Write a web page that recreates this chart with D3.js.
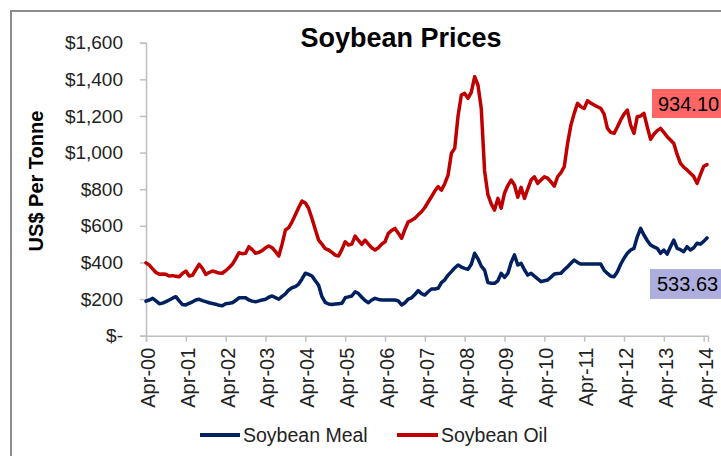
<!DOCTYPE html>
<html><head><meta charset="utf-8">
<script src="https://cdn.jsdelivr.net/npm/d3@7"></script>
<style>
body{margin:0;background:#fff;}
svg{display:block;font-family:"Liberation Sans",Arial,sans-serif;}
</style>
</head><body>
<svg id="chart" width="721" height="456"></svg>
<script>
// ---- data (monthly, Apr-2000 .. May-2014), US$ per tonne ----
const startMonth = new Date(2000, 3, 1);
const xTickLabels = ["Apr-00","Apr-01","Apr-02","Apr-03","Apr-04","Apr-05","Apr-06","Apr-07",
                     "Apr-08","Apr-09","Apr-10","Apr-11","Apr-12","Apr-13","Apr-14"];
const yTickValues = [0,200,400,600,800,1000,1200,1400,1600];
const seriesNames = ["Soybean Meal","Soybean Oil"];
const seriesColors = ["#002060","#C00000"];
const soybeanOil = [
  398,385,365,345,336,337,335,326,328,325,322,340,
  353,326,330,360,390,368,335,345,353,348,342,341,
  355,371,390,420,453,448,450,486,470,450,455,465,
  480,490,480,460,435,500,577,590,622,660,700,735,
  725,695,640,580,522,500,475,468,455,440,435,470,
  513,495,500,544,520,499,522,500,480,468,480,500,
  513,559,575,586,560,532,580,622,630,641,660,677,
  700,730,759,790,814,795,830,877,996,1023,1200,1314,
  1323,1296,1330,1414,1369,1240,900,770,720,686,750,696,
  778,820,850,823,756,810,750,800,850,868,832,850,
  868,860,840,817,868,890,923,1050,1150,1214,1269,1250,
  1241,1283,1270,1260,1250,1241,1210,1132,1110,1105,1140,1178,
  1210,1232,1150,1105,1196,1200,1214,1140,1072,1100,1120,1132,
  1110,1087,1069,1050,990,941,920,905,887,870,832,880,
  925,934.10
];
const soybeanMeal = [
  189,195,204,190,175,178,186,195,205,213,190,170,
  168,177,185,195,199,192,186,180,176,172,166,164,
  175,177,180,192,207,207,207,195,189,185,190,195,
  199,210,217,208,199,215,228,250,262,268,282,310,
  341,335,326,300,275,213,182,173,170,173,175,177,
  207,212,217,240,230,210,192,180,195,204,198,195,
  195,195,195,195,190,168,180,200,207,225,246,230,
  222,240,255,255,259,290,305,331,350,370,386,375,
  368,362,390,450,420,380,358,290,286,286,300,341,
  319,340,400,441,386,395,360,331,341,325,310,295,
  300,304,320,337,340,341,360,377,395,413,400,391,
  391,391,391,391,391,391,358,340,325,322,349,390,
  423,450,468,477,540,586,550,520,495,485,477,450,
  468,446,486,522,477,470,459,486,468,480,505,500,
  515,533.63
];
const lastValueLabels = ["533.63","934.10"];
const lastValueFills = ["#AEAEDE","#FF6666"];

// ---- drawing ----
const svg = d3.select("#chart");
const FONT = '"Liberation Sans",Arial,sans-serif';
const months = soybeanOil.map((_, i) => d3.timeMonth.offset(startMonth, i));

// outer frame
svg.append("rect").attr("x",11).attr("y",11).attr("width",780).attr("height",500)
  .attr("fill","#fff").attr("stroke","#8C8C8C").attr("stroke-width",2);

const x = d3.scaleLinear().domain([0, 169.3]).range([146, 708]);
const y = d3.scaleLinear().domain([0, 1600]).range([335.7, 42.7]);

// title
svg.append("text").attr("x",401).attr("y",47).attr("text-anchor","middle")
  .attr("font-size",27).attr("font-weight","bold").attr("fill","#000")
  .text("Soybean Prices");

// y axis
const yAxis = d3.axisLeft(y).tickValues(yTickValues).tickSize(6).tickPadding(17)
  .tickFormat(d => d === 0 ? "$-" : "$" + d3.format(",")(d));
const gy = svg.append("g").attr("transform","translate(146,0)").call(yAxis);
gy.select(".domain").attr("stroke","#BFBFBF").attr("stroke-width",1.5);
gy.selectAll(".tick line").attr("stroke","#BFBFBF").attr("stroke-width",1.5);
gy.selectAll(".tick text").attr("font-size",19).attr("font-family",FONT).attr("fill","#222");

// x axis
const xTickIdx = xTickLabels.map((_, i) => i * 12);
const xAxis = d3.axisBottom(x).tickValues(xTickIdx).tickSize(6)
  .tickFormat((d, i) => xTickLabels[i]);
const gx = svg.append("g").attr("transform","translate(0,335.7)").call(xAxis);
gx.select(".domain").attr("stroke","#BFBFBF").attr("stroke-width",1.5);
gx.selectAll(".tick line").attr("stroke","#BFBFBF").attr("stroke-width",1.5);
gx.selectAll(".tick text").attr("font-size",20).attr("font-family",FONT).attr("fill","#222")
  .attr("transform","rotate(-90)").attr("text-anchor","end")
  .attr("x",-12).attr("y",0).attr("dy","0.42em");

// y axis title
svg.append("text").attr("transform","translate(36,181) rotate(-90)")
  .attr("text-anchor","middle").attr("dominant-baseline","central")
  .attr("font-size",20).attr("font-weight","bold").attr("fill","#000")
  .text("US$ Per Tonne");

// lines
const line = d3.line().x((d, i) => x(i)).y(d => y(d));
[soybeanMeal, soybeanOil].forEach((s, k) => {
  svg.append("path").datum(s).attr("d", line).attr("fill","none")
    .attr("stroke", seriesColors[k]).attr("stroke-width",3.5)
    .attr("stroke-linejoin","round").attr("stroke-linecap","round");
});

// last value labels
const boxes = [{x:650, y:269, h:30, tx:657}, {x:652, y:89, h:29, tx:658}];
boxes.forEach((b, k) => {
  svg.append("rect").attr("x",b.x).attr("y",b.y).attr("width",90).attr("height",b.h)
    .attr("fill", lastValueFills[k]);
  svg.append("text").attr("x",b.tx).attr("y",b.y + b.h/2).attr("dominant-baseline","central")
    .attr("font-size",20).attr("fill","#000").text(lastValueLabels[k]);
});

// legend
const legend = [{x1:200, x2:240, tx:243}, {x1:397, x2:438, tx:441}];
legend.forEach((l, k) => {
  svg.append("line").attr("x1",l.x1).attr("x2",l.x2).attr("y1",435).attr("y2",435)
    .attr("stroke", seriesColors[k]).attr("stroke-width",4);
  svg.append("text").attr("x",l.tx).attr("y",435).attr("dominant-baseline","central")
    .attr("font-size",19.5).attr("fill","#222").text(seriesNames[k]);
});
</script>
</body></html>
